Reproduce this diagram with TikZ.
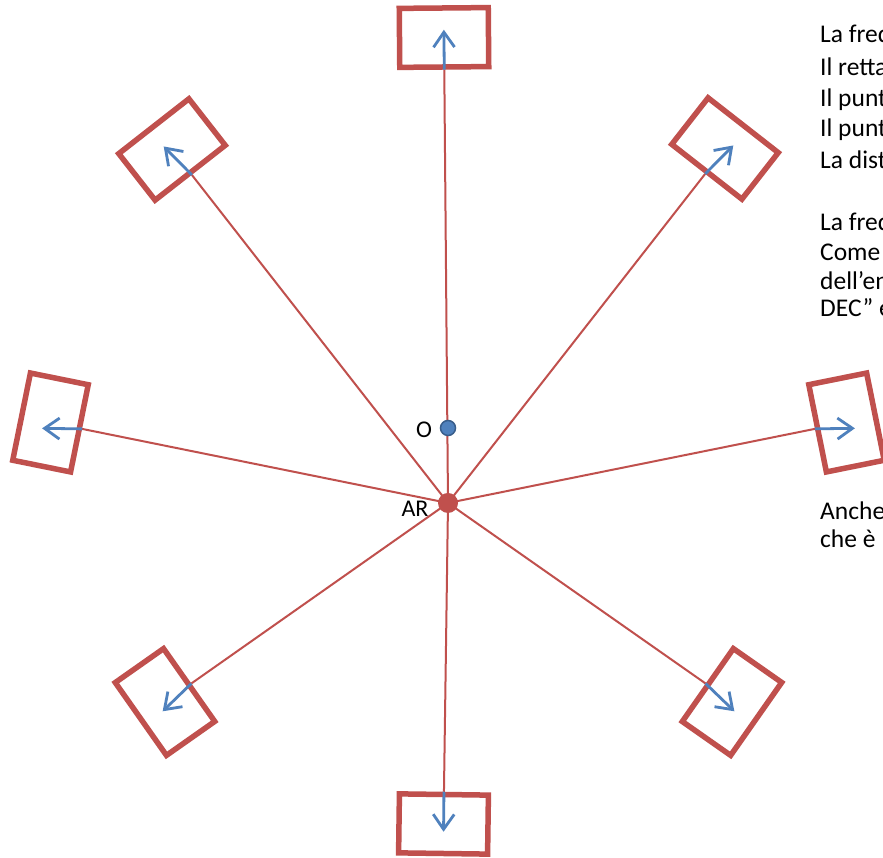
\documentclass[tikz,border=0pt]{standalone}
\usepackage{fontspec}
\setmainfont{Carlito}
\usetikzlibrary{arrows.meta}
\definecolor{myred}{HTML}{C0504D}
\definecolor{myblue}{HTML}{4F81BD}
\definecolor{myblueedge}{HTML}{385D8A}
\begin{document}
\begin{tikzpicture}[x=1pt,y=1pt,
  frame/.style={draw=myred, line width=5.5pt, minimum width=89pt, minimum height=59pt, inner sep=0pt, rectangle},
  ray/.style={draw=myred, line width=2pt},
  dirarrow/.style={draw=myblue, line width=2.8pt, -{Straight Barb[length=15pt,width=21pt]}},
  ardot/.style={circle, fill=myred, minimum size=20pt, inner sep=0pt},
  odot/.style={circle, fill=myblue, draw=myblueedge, line width=1.5pt, minimum size=15pt, inner sep=0pt},
  lab/.style={font=\fontsize{24}{27}\selectfont, inner sep=0pt},
  txt/.style={font=\fontsize{25.5}{29}\selectfont, inner sep=0pt, anchor=base west}]
\useasboundingbox (0,0) rectangle (883,858);
\clip (0,0) rectangle (883,858);
\fill[white] (0,0) rectangle (883,858);

% frames
\node[frame, rotate=0.5]    (r1) at (444,820.5) {};
\node[frame, rotate=-38.0]  (r2) at (725,709.5) {};
\node[frame, rotate=-78.6]  (r3) at (846.5,435.5) {};
\node[frame, rotate=-125.0] (r4) at (732,156) {};
\node[frame, rotate=179.2]  (r5) at (443.5,34) {};
\node[frame, rotate=125.1]  (r6) at (165,156) {};
\node[frame, rotate=78.55]  (r7) at (50.5,435.5) {};
\node[frame, rotate=38.0]   (r8) at (172,708.5) {};

% centre points
\coordinate (AR) at (448,355);
\coordinate (O) at (448,430);

% rays from AR
\foreach \r in {r1,r2,r3,r4,r5,r6,r7,r8}{
  \draw[ray] (AR) -- (\r.south);
}
\node[ardot] (ARdot) at (AR) {};
\node[odot] (Odot) at (O) {};

% direction arrows (radial from O)
\draw[dirarrow] (r1.south) -- ++(90.6:40);
\draw[dirarrow] (r2.south) -- ++(45.3:40);
\draw[dirarrow] (r3.south) -- ++(0.8:40);
\draw[dirarrow] (r4.south) -- ++(-44.0:40);
\draw[dirarrow] (r5.south) -- ++(-90.6:40);
\draw[dirarrow] (r6.south) -- ++(224.1:40);
\draw[dirarrow] (r7.south) -- ++(179.2:40);
\draw[dirarrow] (r8.south) -- ++(134.7:40);

% labels
\node[lab] (Olab)  at (424,428) {O};
\node[lab] (ARlab) at (415,349) {AR};

% side text (cut by the right edge, as in the reference)
\node[txt] (t1)  at (820,815) {La freq};
\node[txt] (t2)  at (820,782) {Il retta};
\node[txt] (t3)  at (820,751) {Il punt};
\node[txt] (t4)  at (820,721) {Il punt};
\node[txt] (t5)  at (820,689) {La dist};
\node[txt] (t6)  at (820,627) {La freq};
\node[txt] (t7)  at (820,597) {Come};
\node[txt] (t8)  at (820,568) {dell’en};
\node[txt] (t9)  at (820,541) {DEC” e};
\node[txt] (t10) at (820,338) {Anche};
\node[txt] (t11) at (820,310) {che è};
\end{tikzpicture}
\end{document}
